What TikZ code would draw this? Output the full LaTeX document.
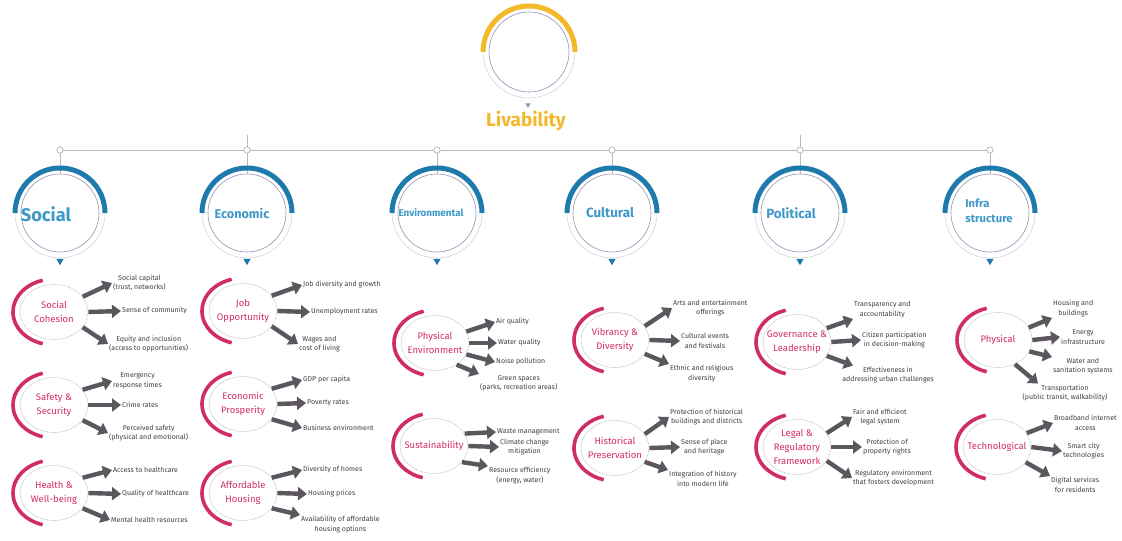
\documentclass[tikz,border=0pt]{standalone}
\usepackage{fontspec}
\setmainfont{Fira Sans}
\usetikzlibrary{arrows.meta,backgrounds,calc,positioning,shapes.geometric}

\definecolor{livgold}{RGB}{242,186,42}
\definecolor{dimblue}{RGB}{30,122,172}
\definecolor{dimtext}{RGB}{62,152,200}
\definecolor{subpink}{RGB}{208,44,102}
\definecolor{ringgray}{RGB}{150,150,185}
\definecolor{arrgray}{RGB}{92,86,94}

\begin{document}
\begin{tikzpicture}[x=0.05cm, y=-0.05cm,
  hub/.style={circle, draw=ringgray, line width=0.9pt, minimum size=3.9cm, inner sep=0pt},
  dim/.style={text=dimtext, align=left, inner sep=0pt},
  sub/.style={ellipse, draw=gray!55, densely dotted, line width=0.9pt,
              minimum width=3.4cm, minimum height=2.75cm,
              inner xsep=-0.45cm, inner ysep=-0.2cm,
              text=subpink, align=center, font=\fontsize{13.5}{20}\selectfont},
  item/.style={text=black!75, align=center, inner sep=1.5pt,
               font=\fontsize{10}{13.5}\selectfont},
  arr/.style={-{Triangle[length=0.45cm, width=0.65cm]}, line width=0.22cm, arrgray},
  link/.style={gray!55, line width=1.2pt},
  joint/.style={circle, draw=gray!70, fill=white, line width=0.8pt,
                minimum size=0.32cm, inner sep=0pt},
  ptr/.style={regular polygon, regular polygon sides=3, shape border rotate=180,
              fill=dimblue, minimum size=0.42cm, inner sep=0pt},
  bluearc/.style={dimblue, line width=0.25cm},
  pinkarc/.style={subpink, line width=0.18cm},
  ring/.style={gray!35, line width=0.8pt},
]
\useasboundingbox (0,0) rectangle (1122,541);

% top hub
\node[hub, minimum size=4cm] (liv) at (529,52) {};
\draw[bluearc, livgold] ($(liv)+(180:46)$) arc[start angle=180, end angle=360, radius=46];
\draw[ring] ($(liv)+(0:46)$) arc[start angle=0, end angle=180, radius=46];
\node[ptr, fill=ringgray, minimum size=0.3cm] (livptr) at (528,105) {};
\node[text=livgold, font=\fontsize{27}{27}\selectfont\bfseries, inner sep=0pt] (livtxt) at (526,121) {Livability};

% bar with the six joints
\node[joint] (j1) at (60,150) {};
\node[joint] (j2) at (247,150) {};
\node[joint] (j3) at (437,150) {};
\node[joint] (j4) at (612,150) {};
\node[joint] (j5) at (800,150) {};
\node[joint] (j6) at (990,150) {};
\coordinate (k2) at (247,135);
\coordinate (k5) at (800,135);
\begin{scope}[on background layer]
\draw[link] (j1) -- (j6);
\draw[link] (j2) -- (k2);
\draw[link] (j5) -- (k5);
\end{scope}

% dimension hubs
\node[hub] (soc) at (60,213) {};
\node[hub] (eco) at (247,213) {};
\node[hub] (env) at (437,213) {};
\node[hub] (cul) at (612,213) {};
\node[hub] (pol) at (800,213) {};
\node[hub] (inf) at (990,213) {};
\draw[link] (j1) -- (soc);
\draw[link] (j2) -- (eco);
\draw[link] (j3) -- (env);
\draw[link] (j4) -- (cul);
\draw[link] (j5) -- (pol);
\draw[link] (j6) -- (inf);
\draw[bluearc] ($(soc)+(180:45)$) arc[start angle=180, end angle=360, radius=45];
\draw[bluearc] ($(eco)+(180:45)$) arc[start angle=180, end angle=360, radius=45];
\draw[bluearc] ($(env)+(180:45)$) arc[start angle=180, end angle=360, radius=45];
\draw[bluearc] ($(cul)+(180:45)$) arc[start angle=180, end angle=360, radius=45];
\draw[bluearc] ($(pol)+(180:45)$) arc[start angle=180, end angle=360, radius=45];
\draw[bluearc] ($(inf)+(180:45)$) arc[start angle=180, end angle=360, radius=45];
\draw[ring] ($(soc)+(0:45)$) arc[start angle=0, end angle=180, radius=45];
\draw[ring] ($(eco)+(0:45)$) arc[start angle=0, end angle=180, radius=45];
\draw[ring] ($(env)+(0:45)$) arc[start angle=0, end angle=180, radius=45];
\draw[ring] ($(cul)+(0:45)$) arc[start angle=0, end angle=180, radius=45];
\draw[ring] ($(pol)+(0:45)$) arc[start angle=0, end angle=180, radius=45];
\draw[ring] ($(inf)+(0:45)$) arc[start angle=0, end angle=180, radius=45];
\node[ptr] (socp) at (60,261) {};
\node[ptr] (ecop) at (247,261) {};
\node[ptr] (envp) at (437,261) {};
\node[ptr] (culp) at (612,261) {};
\node[ptr] (polp) at (800,261) {};
\node[ptr] (infp) at (990,261) {};
\node[dim, font=\fontsize{26}{26}\selectfont\bfseries] (soct) at (46,214) {Social};
\node[dim, font=\fontsize{18}{18}\selectfont\bfseries] (ecot) at (242,213) {Economic};
\node[dim, font=\fontsize{14}{14}\selectfont\bfseries] (envt) at (431,213) {Environmental};
\node[dim, font=\fontsize{19}{19}\selectfont\bfseries] (cult) at (610,213) {Cultural};
\node[dim, font=\fontsize{19}{19}\selectfont\bfseries] (polt) at (791,213) {Political};
\node[dim, font=\fontsize{16}{21}\selectfont\bfseries] (inft) at (989,211) {Infra\\structure};

% social
\node[sub] (coh) at (54,312) {Social\\Cohesion};
\draw[pinkarc] ($(coh)+(106:41 and 33)$) arc[start angle=106, end angle=254, x radius=41, y radius=33];
\node[item, anchor=west] (coh1) at (112,283) {Social capital\\(trust, networks)};
\node[item, anchor=west] (coh2) at (121,311) {Sense of community};
\node[item, anchor=west] (coh3) at (108,344) {Equity and inclusion\\(access to opportunities)};
\draw[arr] (coh.28) -- (coh1.west);
\draw[arr] (coh.east) -- (coh2.west);
\draw[arr] (coh.-28) -- (coh3.west);

\node[sub] (saf) at (54,405) {Safety \&\\Security};
\draw[pinkarc] ($(saf)+(106:41 and 33)$) arc[start angle=106, end angle=254, x radius=41, y radius=33];
\node[item, anchor=west] (saf1) at (112,381) {Emergency\\response times};
\node[item, anchor=west] (saf2) at (121,405) {Crime rates};
\node[item, anchor=west] (saf3) at (108,433) {Perceived safety\\(physical and emotional)};
\draw[arr] (saf.28) -- (saf1.west);
\draw[arr] (saf.east) -- (saf2.west);
\draw[arr] (saf.-28) -- (saf3.west);

\node[sub] (hlt) at (54,493) {Health \&\\Well-being};
\draw[pinkarc] ($(hlt)+(106:41 and 33)$) arc[start angle=106, end angle=254, x radius=41, y radius=33];
\node[item, anchor=west] (hlt1) at (112,470) {Access to healthcare};
\node[item, anchor=west] (hlt2) at (121,494) {Quality of healthcare};
\node[item, anchor=west] (hlt3) at (110,520) {Mental health resources};
\draw[arr] (hlt.28) -- (hlt1.west);
\draw[arr] (hlt.east) -- (hlt2.west);
\draw[arr] (hlt.-28) -- (hlt3.west);

% economic
\node[sub] (job) at (243,311) {Job\\Opportunity};
\draw[pinkarc] ($(job)+(106:41 and 33)$) arc[start angle=106, end angle=254, x radius=41, y radius=33];
\node[item, anchor=west] (job1) at (302,285) {Job diversity and growth};
\node[item, anchor=west] (job2) at (310,312) {Unemployment rates};
\node[item, anchor=west] (job3) at (298,344) {Wages and\\cost of living};
\draw[arr] (job.28) -- (job1.west);
\draw[arr] (job.east) -- (job2.west);
\draw[arr] (job.-28) -- (job3.west);

\node[sub] (pro) at (243,404) {Economic\\Prosperity};
\draw[pinkarc] ($(pro)+(106:41 and 33)$) arc[start angle=106, end angle=254, x radius=41, y radius=33];
\node[item, anchor=west] (pro1) at (302,380) {GDP per capita};
\node[item, anchor=west] (pro2) at (306,403) {Poverty rates};
\node[item, anchor=west] (pro3) at (302,428) {Business environment};
\draw[arr] (pro.28) -- (pro1.west);
\draw[arr] (pro.east) -- (pro2.west);
\draw[arr] (pro.-28) -- (pro3.west);

\node[sub] (hou) at (243,493) {Affordable\\Housing};
\draw[pinkarc] ($(hou)+(106:41 and 33)$) arc[start angle=106, end angle=254, x radius=41, y radius=33];
\node[item, anchor=west] (hou1) at (302,470) {Diversity of homes};
\node[item, anchor=west] (hou2) at (307,494) {Housing prices};
\node[item, anchor=north west] (hou3) at (300,515) {Availability of affordable\\housing options};
\draw[arr] (hou.28) -- (hou1.west);
\draw[arr] (hou.east) -- (hou2.west);
\draw[arr] (hou.-28) -- (hou3.north west);

% environmental
\node[sub] (phe) at (435,343) {Physical\\Environment};
\draw[pinkarc] ($(phe)+(106:41 and 33)$) arc[start angle=106, end angle=254, x radius=41, y radius=33];
\node[item, anchor=west] (phe1) at (495,322) {Air quality};
\node[item, anchor=west] (phe2) at (497,343) {Water quality};
\node[item, anchor=west] (phe3) at (495,362) {Noise pollution};
\node[item, anchor=north west] (phe4) at (479,374) {Green spaces\\(parks, recreation areas)};
\draw[arr] (phe.20) -- (phe1.west);
\draw[arr] (phe.east) -- (phe2.west);
\draw[arr] (phe.-20) -- (phe3.west);
\draw[arr] (phe.-45) -- (phe4.north west);

\node[sub] (sus) at (434,446) {Sustainability};
\draw[pinkarc] ($(sus)+(106:41 and 33)$) arc[start angle=106, end angle=254, x radius=41, y radius=33];
\node[item, anchor=west] (sus1) at (496,432) {Waste management};
\node[item, anchor=west] (sus2) at (499,447) {Climate change\\mitigation};
\node[item, anchor=north west] (sus3) at (488,466) {Resource efficiency\\(energy, water)};
\draw[arr] (sus.22) -- (sus1.west);
\draw[arr] (sus.east) -- (sus2.west);
\draw[arr] (sus.-30) -- (sus3.north west);

% cultural
\node[sub] (vib) at (615,340) {Vibrancy \&\\Diversity};
\draw[pinkarc] ($(vib)+(106:41 and 33)$) arc[start angle=106, end angle=254, x radius=41, y radius=33];
\node[item, anchor=west] (vib1) at (672,308) {Arts and entertainment\\offerings};
\node[item, anchor=west] (vib2) at (680,341) {Cultural events\\and festivals};
\node[item, anchor=north west] (vib3) at (669,364) {Ethnic and religious\\diversity};
\draw[arr] (vib.25) -- (vib1.west);
\draw[arr] (vib.east) -- (vib2.west);
\draw[arr] (vib.-25) -- (vib3.north west);

\node[sub] (his) at (615,448) {Historical\\Preservation};
\draw[pinkarc] ($(his)+(106:41 and 33)$) arc[start angle=106, end angle=254, x radius=41, y radius=33];
\node[item, anchor=west] (his1) at (669,417) {Protection of historical\\buildings and districts};
\node[item, anchor=west] (his2) at (680,447) {Sense of place\\and heritage};
\node[item, anchor=north west] (his3) at (668,470) {Integration of history\\into modern life};
\draw[arr] (his.25) -- (his1.west);
\draw[arr] (his.east) -- (his2.west);
\draw[arr] (his.-25) -- (his3.north west);

% political
\node[sub] (gov) at (797,342) {Governance \&\\Leadership};
\draw[pinkarc] ($(gov)+(106:41 and 33)$) arc[start angle=106, end angle=254, x radius=41, y radius=33];
\node[item, anchor=south west] (gov1) at (853,319) {Transparency and\\accountability};
\node[item, anchor=west] (gov2) at (861,340) {Citizen participation\\in decision-making};
\node[item] (gov3) at (888,375) {Effectiveness in\\addressing urban challenges};
\draw[arr] (gov.25) -- (gov1.south west);
\draw[arr] (gov.east) -- (gov2.west);
\draw[arr] (gov.-25) -- (gov3.north -| gov1.south west);

\node[sub] (leg) at (797,447) {Legal \&\\Regulatory\\Framework};
\draw[pinkarc] ($(leg)+(106:41 and 33)$) arc[start angle=106, end angle=254, x radius=41, y radius=33];
\node[item, anchor=west] (leg1) at (852,417) {Fair and efficient\\legal system};
\node[item, anchor=west] (leg2) at (862,447) {Protection of\\property rights};
\node[item, anchor=west] (leg3) at (852,478) {Regulatory environment\\that fosters development};
\draw[arr] (leg.25) -- (leg1.west);
\draw[arr] (leg.east) -- (leg2.west);
\draw[arr] (leg.-25) -- (leg3.west);

% infrastructure
\node[sub] (phy) at (998,340) {Physical};
\draw[pinkarc] ($(phy)+(106:41 and 33)$) arc[start angle=106, end angle=254, x radius=41, y radius=33];
\node[item, anchor=south west] (phy1) at (1052,318) {Housing and\\buildings};
\node[item, anchor=west] (phy2) at (1060,337) {Energy\\infrastructure};
\node[item, anchor=north west] (phy3) at (1052,357) {Water and\\sanitation systems};
\node[item] (phy4) at (1065,393) {Transportation\\(public transit, walkability)};
\draw[arr] (phy.22) -- (phy1.south west);
\draw[arr] (phy.east) -- (phy2.west);
\draw[arr] (phy.-20) -- (phy3.north west);
\draw[arr] (phy.-55) -- ($(phy4.north)+(-27,0)$);

\node[sub] (tec) at (997,447) {Technological};
\draw[pinkarc] ($(tec)+(106:41 and 33)$) arc[start angle=106, end angle=254, x radius=41, y radius=33];
\node[item, anchor=west] (tec1) at (1053,423) {Broadband internet\\access};
\node[item, anchor=west] (tec2) at (1062,451) {Smart city\\technologies};
\node[item, anchor=north west] (tec3) at (1050,476) {Digital services\\for residents};
\draw[arr] (tec.25) -- (tec1.west);
\draw[arr] (tec.east) -- (tec2.west);
\draw[arr] (tec.-28) -- (tec3.north west);
\end{tikzpicture}
\end{document}
